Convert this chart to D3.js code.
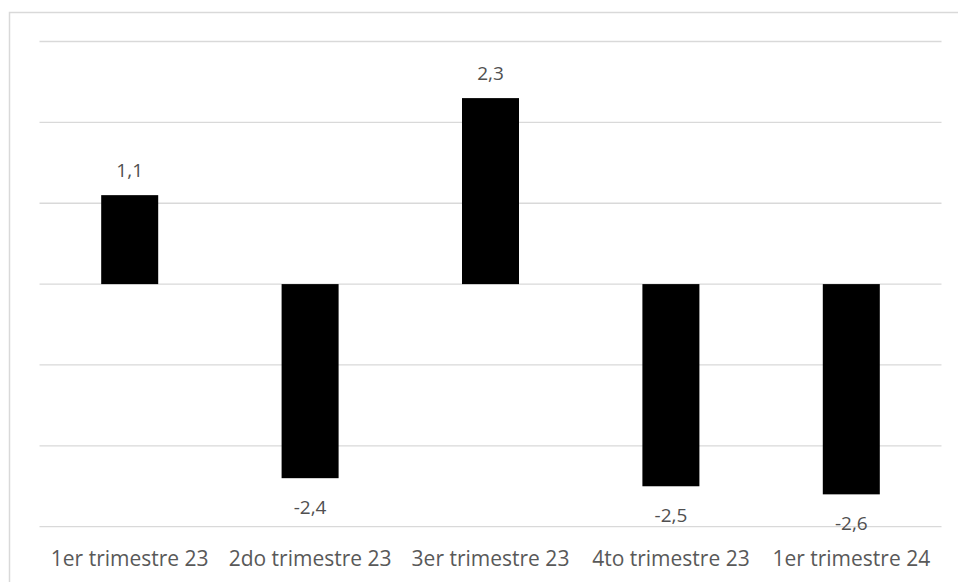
<!DOCTYPE html>
<html><head><meta charset="utf-8">
<script src="https://cdn.jsdelivr.net/npm/d3@7"></script>
<style>body{margin:0;background:#fff;}svg{display:block;}</style>
</head><body>
<svg id="c" width="958" height="582"></svg>
<script>
const categories = ["1er trimestre 23","2do trimestre 23","3er trimestre 23","4to trimestre 23","1er trimestre 24"];
const values = [1.1, -2.4, 2.3, -2.5, -2.6];
const yTicks = [-3,-2,-1,0,1,2,3];

const svg = d3.select("#c");
const W = 958, H = 582;
const FONT = "'Open Sans', sans-serif";

svg.append("rect").attr("x",9.5).attr("y",12.5).attr("width",W).attr("height",H)
  .attr("fill","#fff").attr("stroke","#d9d9d9").attr("stroke-width",1.5);

const x = d3.scaleBand().domain(categories).range([39.5, 941.5]).paddingInner(0.684).paddingOuter(0.342);
const y = d3.scaleLinear().domain([-3,3]).range([526.7, 41.5]);

svg.append("g").selectAll("line").data(yTicks).join("line")
  .attr("x1",39.5).attr("x2",941.5)
  .attr("y1",d=>y(d)).attr("y2",d=>y(d))
  .attr("stroke","#d9d9d9").attr("stroke-width",1.3);

svg.append("g").selectAll("rect").data(values).join("rect")
  .attr("x",(d,i)=>x(categories[i]))
  .attr("width",x.bandwidth())
  .attr("y",d=>y(Math.max(0,d)))
  .attr("height",d=>Math.abs(y(d)-y(0)))
  .attr("fill","#000");

const fmt = v => String(v).replace(".",",");
svg.append("g").selectAll("text").data(values).join("text")
  .attr("x",(d,i)=>x(categories[i])+x.bandwidth()/2)
  .attr("y",d=> d>=0 ? y(d)-18 : y(d)+36)
  .attr("text-anchor","middle")
  .attr("font-family",FONT).attr("font-size",19).attr("fill","#505050")
  .text(fmt);

const xAxis = d3.axisBottom(x).tickSize(0).tickPadding(0);
const gx = svg.append("g").attr("transform","translate(0,566)").call(xAxis);
gx.select(".domain").remove();
gx.selectAll("text").attr("dy",0).attr("font-family",FONT).attr("font-size",21).attr("fill","#595959");
</script>
</body></html>
